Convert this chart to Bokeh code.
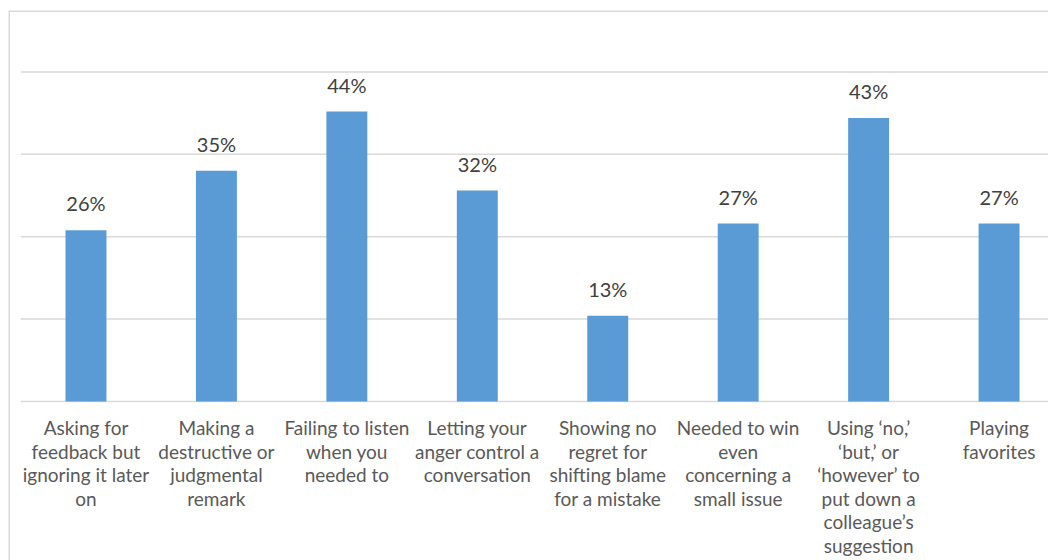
from bokeh.plotting import figure
from bokeh.models import Range1d, ColumnDataSource, Span
from bokeh.core.properties import value
from bokeh.embed import file_html
from bokeh.resources import INLINE

categories = [
    "Asking for\nfeedback but\nignoring it later\non",
    "Making a\ndestructive or\njudgmental\nremark",
    "Failing to listen\nwhen you\nneeded to",
    "Letting your\nanger control a\nconversation",
    "Showing no\nregret for\nshifting blame\nfor a mistake",
    "Needed to win\neven\nconcerning a\nsmall issue",
    "Using \u2018no,\u2019\n\u2018but,\u2019 or\n\u2018however\u2019 to\nput down a\ncolleague\u2019s\nsuggestion",
    "Playing\nfavorites",
]
values = [26, 35, 44, 32, 13, 27, 43, 27]
value_labels = [f"{v}%" for v in values]
grid_ticks = [0, 12.5, 25, 37.5, 50]

FONT = "Lato"
BAR = "#5B9BD5"
GRID = "#D9D9D9"

xs = list(range(len(categories)))
src = ColumnDataSource(dict(x=xs, top=values, lab=value_labels, cat=categories,
                            zero=[0] * len(xs)))

x_start, x_end = -0.594, 7.379
y_start, y_end = -24.13, 59.33

p = figure(width=1048, height=560, output_backend="svg", toolbar_location=None,
           x_axis_location=None, y_axis_location=None,
           x_range=Range1d(x_start, x_end), y_range=Range1d(y_start, y_end),
           min_border_left=8, min_border_top=10, min_border_right=0, min_border_bottom=0)
p.grid.visible = False
p.outline_line_color = None
p.background_fill_color = "white"
p.border_fill_color = "white"

# chart-area border (left and top edges; right/bottom lie outside the page)
p.add_layout(Span(location=x_start, dimension="height", line_color=GRID, line_width=3))
p.add_layout(Span(location=y_end, dimension="width", line_color=GRID, line_width=3))

# horizontal gridlines spanning the category area
p.segment(x0=[-0.5] * len(grid_ticks), x1=[8] * len(grid_ticks),
          y0=grid_ticks, y1=grid_ticks, line_color=GRID, line_width=1.5)

p.vbar(x="x", top="top", width=0.314, source=src, fill_color=BAR, line_color=None)

p.text(x="x", y="top", text="lab", source=src, text_align="center",
       text_baseline="middle", y_offset=-27, text_font=value(FONT),
       text_font_size="20px", text_color="#404040")

p.text(x="x", y="zero", text="cat", source=src, text_align="center",
       text_baseline="top", y_offset=15, text_font=value(FONT),
       text_font_size="19px", text_color="#595959", text_line_height=1.02)

open("out.html", "w").write(file_html(p, INLINE))
